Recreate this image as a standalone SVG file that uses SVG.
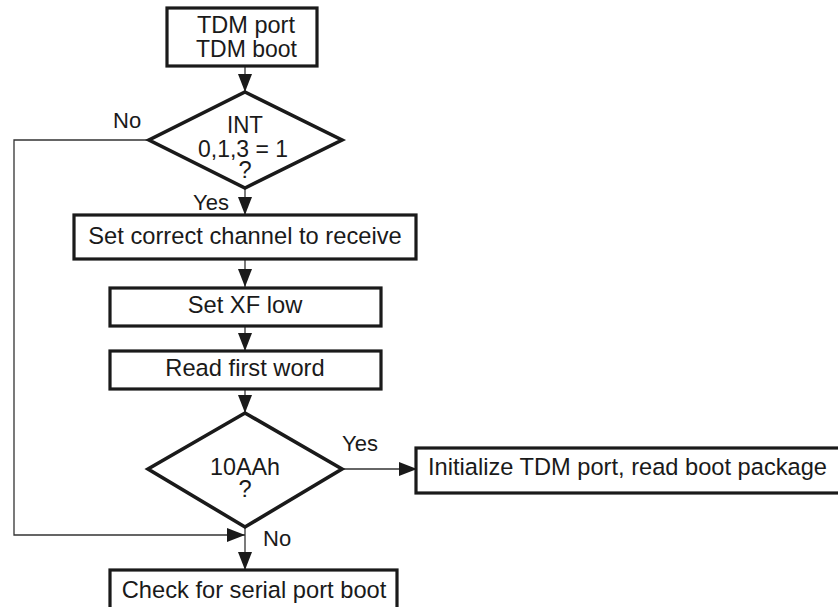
<svg xmlns="http://www.w3.org/2000/svg" width="838" height="607" viewBox="0 0 838 607">
  <defs>
    <marker id="arrow" markerWidth="18" markerHeight="14" refX="18" refY="7" orient="auto" markerUnits="userSpaceOnUse">
      <path d="M0,0 L18,7 L0,14 Z" fill="#1a1a1a"/>
    </marker>
    <style>
      .box { fill: #fff; stroke: #1a1a1a; stroke-width: 3.2; }
      .dec { fill: #fff; stroke: #1a1a1a; stroke-width: 3.6; stroke-linejoin: miter; }
      .wire { fill: none; stroke: #333; stroke-width: 1.3; }
      text { font-family: "Liberation Sans", Arial, sans-serif; font-size: 23.7px; fill: #1a1a1a; }
      .c { text-anchor: middle; }
      .lbl { font-size: 22px; }
    </style>
  </defs>
  <rect width="838" height="607" fill="#fff"/>

  <!-- connectors -->
  <g id="connectors">
    <line class="wire" x1="245" y1="66" x2="245" y2="92" marker-end="url(#arrow)"/>
    <line class="wire" x1="245" y1="188" x2="245" y2="215" marker-end="url(#arrow)"/>
    <line class="wire" x1="245" y1="259" x2="245" y2="287" marker-end="url(#arrow)"/>
    <line class="wire" x1="245" y1="326" x2="245" y2="351" marker-end="url(#arrow)"/>
    <line class="wire" x1="245" y1="389" x2="245" y2="413" marker-end="url(#arrow)"/>
    <line class="wire" x1="342" y1="469" x2="417" y2="469" marker-end="url(#arrow)"/>
    <line class="wire" x1="245" y1="527" x2="245" y2="570" marker-end="url(#arrow)"/>
    <polyline class="wire" points="149,140 14,140 14,535 245,535" marker-end="url(#arrow)"/>
    <text class="lbl" x="113" y="128">No</text>
    <text class="lbl" x="193" y="210">Yes</text>
    <text class="lbl" x="342" y="451">Yes</text>
    <text class="lbl" x="263" y="546">No</text>
  </g>

  <g id="start">
    <rect class="box" x="167" y="8" width="150" height="58"/>
    <text x="197" y="33" textLength="98" lengthAdjust="spacingAndGlyphs">TDM port</text>
    <text x="196" y="56.5" textLength="101" lengthAdjust="spacingAndGlyphs">TDM boot</text>
  </g>

  <g id="check-int">
    <polygon class="dec" points="245,92 342,140 245,188 149,140"/>
    <text x="227" y="132.5" textLength="36" lengthAdjust="spacingAndGlyphs">INT</text>
    <text x="198" y="156.5" textLength="90" lengthAdjust="spacingAndGlyphs">0,1,3 = 1</text>
    <text class="c" x="245" y="178">?</text>
  </g>

  <g id="set-channel">
    <rect class="box" x="74" y="215" width="342" height="44"/>
    <text class="c" x="245" y="244">Set correct channel to receive</text>
  </g>

  <g id="set-xf">
    <rect class="box" x="110" y="288" width="271" height="38"/>
    <text class="c" x="245" y="313">Set XF low</text>
  </g>

  <g id="read-word">
    <rect class="box" x="110" y="351" width="271" height="38"/>
    <text class="c" x="245" y="376">Read first word</text>
  </g>

  <g id="check-10aah">
    <polygon class="dec" points="245,413 342,469 245,527 148,469"/>
    <text x="210" y="475" textLength="70" lengthAdjust="spacingAndGlyphs">10AAh</text>
    <text class="c" x="245" y="497">?</text>
  </g>

  <g id="init-tdm">
    <rect class="box" x="416" y="448" width="432" height="45"/>
    <text x="428" y="475" textLength="399" lengthAdjust="spacingAndGlyphs">Initialize TDM port, read boot package</text>
  </g>

  <g id="serial-boot">
    <rect class="box" x="110" y="570" width="287" height="40"/>
    <text class="c" x="254" y="598">Check for serial port boot</text>
  </g>
</svg>
